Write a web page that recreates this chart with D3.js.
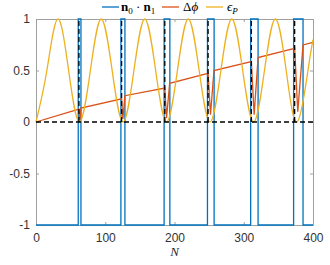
<!DOCTYPE html>
<html>
<head>
<meta charset="utf-8">
<script src="https://cdn.jsdelivr.net/npm/d3@7"></script>
<style>
body { margin: 0; background: #fff; }
svg { display: block; }
.tick text { font-family: "Liberation Sans", Arial, sans-serif; font-size: 12px; fill: #333; }
</style>
</head>
<body>
<svg width="330" height="265"></svg>
<script>
// eps_P samples (peaks / half / zeros)
var epsN = [0, 15.7, 31.4, 47.1, 62.8, 78.5, 94.2, 110, 125.7, 141.4, 157.1, 172.8, 188.5,
    204.2, 219.9, 235.6, 251.3, 267, 282.7, 298.5, 314.2, 329.9, 345.6, 361.3, 377, 392.7, 400];
var epsVal = [0, 0.5, 1, 0.5, 0, 0.5, 1, 0.5, 0, 0.5, 1, 0.5, 0,
    0.5, 1, 0.5, 0, 0.5, 1, 0.5, 0, 0.5, 1, 0.5, 0, 0.5, 0.8];

// delta phi
var phiN = [0, 62, 63.5, 65, 123.6, 125.5, 128.4, 186, 188.5, 193, 248.5, 252, 257,
    311, 315, 320.7, 373.5, 378, 385.6, 400];
var phiVal = [0, 0.125, 0.02, 0.135, 0.225, 0.03, 0.255, 0.33, 0.04, 0.375, 0.472, 0.07, 0.5,
    0.587, 0.07, 0.625, 0.716, 0.1, 0.748, 0.774];

// n0 . n1 : -1 except these windows where it is +1
var pulseStart = [61, 122.6, 185, 247.6, 310, 372];
var pulseEnd = [64.9, 128.4, 193.3, 257.2, 320.7, 385.6];

// dashed markers
var dashN = [62, 123.6, 186, 248.5, 311, 373.5];

var xTicks = [0, 100, 200, 300, 400];
var yTicks = [-1, -0.5, 0, 0.5, 1];

var svg = d3.select("svg");
var mLeft = 36, mRight = 313, mTop = 19, mBottom = 225;

var x = d3.scaleLinear().domain([0, 400]).range([mLeft, mRight]);
var y = d3.scaleLinear().domain([-1, 1]).range([mBottom, mTop]);

var axisColor = "#a0a0a0";

// axes (ticks pointing inward, mirrored)
var gx = svg.append("g").attr("transform", "translate(0," + mBottom + ")")
    .call(d3.axisBottom(x).tickValues(xTicks).tickSizeInner(-3).tickSizeOuter(0).tickPadding(8));
var gxt = svg.append("g").attr("transform", "translate(0," + mTop + ")")
    .call(d3.axisTop(x).tickValues(xTicks).tickSizeInner(-3).tickSizeOuter(0).tickFormat(""));
var gy = svg.append("g").attr("transform", "translate(" + mLeft + ",0)")
    .call(d3.axisLeft(y).tickValues(yTicks).tickSizeInner(-3).tickSizeOuter(0).tickPadding(6)
        .tickFormat(function(d) { return String(d); }));
var gyr = svg.append("g").attr("transform", "translate(" + mRight + ",0)")
    .call(d3.axisRight(y).tickValues(yTicks).tickSizeInner(-3).tickSizeOuter(0).tickFormat(""));

[gx, gxt, gy, gyr].forEach(function(g) {
    g.select(".domain").attr("stroke", axisColor).attr("stroke-width", 1);
    g.selectAll(".tick line").attr("stroke", axisColor).attr("stroke-width", 1);
});

var line = d3.line()
    .x(function(d) { return x(d[0]); })
    .y(function(d) { return y(d[1]); });

// n0 . n1
var blue = [[0, -1]];
pulseStart.forEach(function(s, i) {
    blue.push([s, -1], [s, 1], [pulseEnd[i], 1], [pulseEnd[i], -1]);
});
blue.push([400, -1]);
svg.append("path")
    .attr("d", line(blue))
    .attr("fill", "none").attr("stroke", "#0072BD").attr("stroke-width", 1.3);

// delta phi
svg.append("path")
    .attr("d", line(d3.zip(phiN, phiVal)))
    .attr("fill", "none").attr("stroke", "#D95319").attr("stroke-width", 1.3);

// eps_P
var smooth = d3.line()
    .x(function(d) { return x(d[0]); })
    .y(function(d) { return y(d[1]); })
    .curve(d3.curveNatural);
svg.append("path")
    .attr("d", smooth(d3.zip(epsN, epsVal)))
    .attr("fill", "none").attr("stroke", "#EDB120").attr("stroke-width", 1.3);

// dashed lines
svg.append("line")
    .attr("x1", x(0)).attr("x2", x(400)).attr("y1", y(0)).attr("y2", y(0))
    .attr("stroke", "#000").attr("stroke-width", 1.3).attr("stroke-dasharray", "5,3");
svg.selectAll(".vdash")
    .data(dashN)
    .enter()
    .append("line")
    .attr("class", "vdash")
    .attr("x1", function(d) { return x(d); })
    .attr("x2", function(d) { return x(d); })
    .attr("y1", y(0)).attr("y2", y(1))
    .attr("stroke", "#000").attr("stroke-width", 1.3).attr("stroke-dasharray", "5,3");

// x label
svg.append("text")
    .attr("x", (mLeft + mRight) / 2).attr("y", 256)
    .attr("text-anchor", "middle")
    .style("font-family", "'Liberation Serif', serif").style("font-style", "italic").style("font-size", "13px")
    .attr("fill", "#262626")
    .text("N");

// legend
var legend = svg.append("g").attr("transform", "translate(0,7)");
var items = [
    { color: "#0072BD", x: 102 },
    { color: "#D95319", x: 162 },
    { color: "#EDB120", x: 206 }
];
legend.selectAll("line")
    .data(items)
    .enter()
    .append("line")
    .attr("x1", function(d) { return d.x; })
    .attr("x2", function(d) { return d.x + 17; })
    .attr("y1", 0).attr("y2", 0)
    .attr("stroke", function(d) { return d.color; })
    .attr("stroke-width", 1.3);

var font = "'Liberation Serif', serif";
var t1 = legend.append("text").attr("x", 121).attr("y", 4)
    .style("font-family", font).style("font-size", "13px").attr("fill", "#000");
t1.append("tspan").style("font-weight", "bold").text("n");
t1.append("tspan").attr("dy", 3).style("font-size", "9px").text("0");
t1.append("tspan").attr("dy", -3).text(" · ");
t1.append("tspan").style("font-weight", "bold").text("n");
t1.append("tspan").attr("dy", 3).style("font-size", "9px").text("1");

legend.append("text").attr("x", 183).attr("y", 4)
    .style("font-family", font).style("font-size", "13px").attr("fill", "#000")
    .text("Δ")
    .append("tspan").style("font-style", "italic").text("ϕ");

var t3 = legend.append("text").attr("x", 227).attr("y", 4)
    .style("font-family", font).style("font-size", "13px").attr("fill", "#000");
t3.append("tspan").style("font-style", "italic").text("ϵ");
t3.append("tspan").attr("dy", 3).style("font-size", "9px").style("font-style", "italic").text("P");
</script>
</body>
</html>
